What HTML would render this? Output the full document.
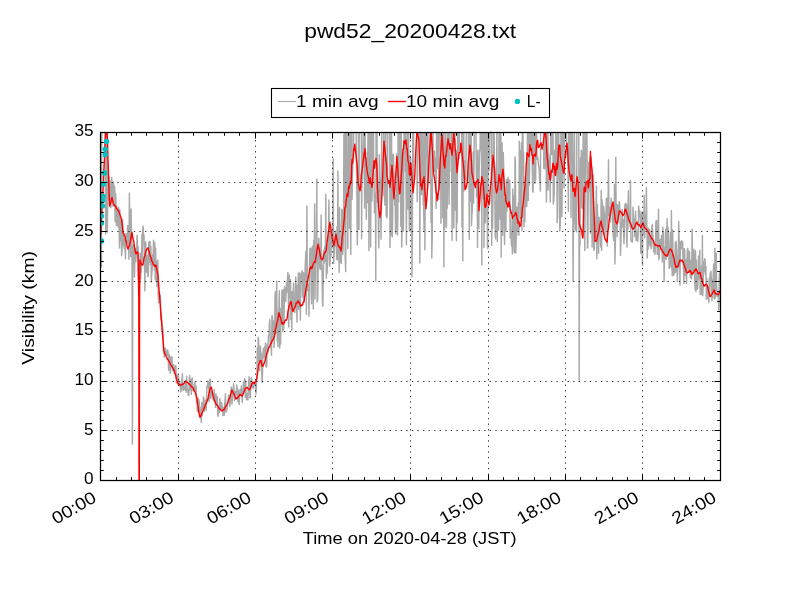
<!DOCTYPE html>
<html><head><meta charset="utf-8"><style>
html,body{margin:0;padding:0;background:#fff;width:800px;height:600px;overflow:hidden;font-family:"Liberation Sans",sans-serif}
text{font-family:"Liberation Sans",sans-serif;fill:#000}
</style></head><body>
<svg width="800" height="600" viewBox="0 0 800 600" style="position:absolute;left:0;top:0;will-change:transform">
<rect width="800" height="600" fill="#fff"/>
<defs><clipPath id="c"><rect x="100.5" y="132.5" width="620" height="348"/></clipPath></defs>
<g clip-path="url(#c)">
<path d="M100.5 250.0 L100.9 258.0 L101.4 267.0 L101.8 110.0 L102.2 110.0 L102.7 110.0 L103.1 110.0 L103.5 110.0 L103.9 110.0 L104.4 110.0 L104.8 110.0 L105.2 160.0 L105.7 234.0 L106.1 125.0 L106.5 230.0 L107.0 110.0 L107.4 232.0 L107.8 180.0 L108.3 200.0 L108.7 178.7 L109.1 176.9 L109.5 190.4 L110.0 180.8 L110.4 203.9 L110.8 207.6 L111.3 201.1 L111.7 177.5 L112.1 185.7 L112.6 199.4 L113.0 206.3 L113.4 182.0 L113.9 190.4 L114.3 185.9 L114.7 187.3 L115.1 221.4 L115.6 193.6 L116.0 202.9 L116.4 225.6 L116.9 206.3 L117.3 214.6 L117.7 223.9 L118.2 226.9 L118.6 207.4 L119.0 224.1 L119.5 248.1 L119.9 209.8 L120.3 241.1 L120.8 235.7 L121.2 221.5 L121.6 255.7 L122.0 251.7 L122.5 219.1 L122.9 233.2 L123.3 245.6 L123.8 235.2 L124.2 248.4 L124.6 239.1 L125.1 249.7 L125.5 258.8 L125.9 233.8 L126.4 242.9 L126.8 233.9 L127.2 242.8 L127.6 225.4 L128.1 230.1 L128.5 237.8 L128.9 259.2 L129.4 193.0 L129.8 229.2 L130.2 230.4 L130.7 256.6 L131.1 209.0 L131.5 234.3 L132.0 244.8 L132.4 444.0 L132.8 268.2 L133.2 249.3 L133.7 244.9 L134.1 246.8 L134.5 277.0 L135.0 252.1 L135.4 248.3 L135.8 261.6 L136.3 254.4 L136.7 251.4 L137.1 235.3 L137.6 251.2 L138.0 246.1 L138.4 277.5 L138.8 275.0 L139.3 261.0 L139.7 272.9 L140.1 253.3 L140.6 278.7 L141.0 262.7 L141.4 272.3 L141.9 234.5 L142.3 260.8 L142.7 229.1 L143.2 226.1 L143.6 239.8 L144.0 234.8 L144.4 256.8 L144.9 290.9 L145.3 248.4 L145.7 241.7 L146.2 260.9 L146.6 272.2 L147.0 258.1 L147.5 254.9 L147.9 276.4 L148.3 276.6 L148.8 241.9 L149.2 255.9 L149.6 262.2 L150.0 241.4 L150.5 264.8 L150.9 246.2 L151.3 282.0 L151.8 273.6 L152.2 269.8 L152.6 254.4 L153.1 262.1 L153.5 240.3 L153.9 243.6 L154.4 270.3 L154.8 242.6 L155.2 279.5 L155.6 248.2 L156.1 281.5 L156.5 261.2 L156.9 286.6 L157.4 281.6 L157.8 260.1 L158.2 294.6 L158.7 302.9 L159.1 294.1 L159.5 292.2 L160.0 297.2 L160.4 295.5 L160.8 319.9 L161.3 313.5 L161.7 321.9 L162.1 321.6 L162.5 327.0 L163.0 329.0 L163.4 350.4 L163.8 348.5 L164.3 357.3 L164.7 353.4 L165.1 347.9 L165.6 350.3 L166.0 350.0 L166.4 355.0 L166.9 353.9 L167.3 355.1 L167.7 350.0 L168.1 352.4 L168.6 370.2 L169.0 358.6 L169.4 354.6 L169.9 364.3 L170.3 373.2 L170.7 356.8 L171.2 362.0 L171.6 360.8 L172.0 357.1 L172.5 370.8 L172.9 369.1 L173.3 370.2 L173.7 364.7 L174.2 373.5 L174.6 368.0 L175.0 370.6 L175.5 365.7 L175.9 365.6 L176.3 382.9 L176.8 374.1 L177.2 379.5 L177.6 378.6 L178.1 375.9 L178.5 375.7 L178.9 385.7 L179.3 380.8 L179.8 381.9 L180.2 383.8 L180.6 392.0 L181.1 390.5 L181.5 388.0 L181.9 379.5 L182.4 373.7 L182.8 388.2 L183.2 390.6 L183.7 383.2 L184.1 386.9 L184.5 389.0 L184.9 389.5 L185.4 390.3 L185.8 380.7 L186.2 392.3 L186.7 376.2 L187.1 389.1 L187.5 389.1 L188.0 391.8 L188.4 395.3 L188.8 395.4 L189.3 379.4 L189.7 375.5 L190.1 389.9 L190.5 379.7 L191.0 385.7 L191.4 394.4 L191.8 378.9 L192.3 377.9 L192.7 387.8 L193.1 390.4 L193.6 388.8 L194.0 391.5 L194.4 385.0 L194.9 382.0 L195.3 389.8 L195.7 387.5 L196.1 386.2 L196.6 403.3 L197.0 403.6 L197.4 411.5 L197.9 398.0 L198.3 400.3 L198.7 399.5 L199.2 401.6 L199.6 412.4 L200.0 407.0 L200.5 414.5 L200.9 415.3 L201.3 422.4 L201.8 402.5 L202.2 415.6 L202.6 409.3 L203.0 408.0 L203.5 396.9 L203.9 399.9 L204.3 411.1 L204.8 405.3 L205.2 404.8 L205.6 399.9 L206.1 410.4 L206.5 401.9 L206.9 385.9 L207.4 387.6 L207.8 383.0 L208.2 381.1 L208.6 382.5 L209.1 401.6 L209.5 393.3 L209.9 379.0 L210.4 379.3 L210.8 398.5 L211.2 394.2 L211.7 392.6 L212.1 391.8 L212.5 393.1 L213.0 400.0 L213.4 400.4 L213.8 398.8 L214.2 389.5 L214.7 400.7 L215.1 394.2 L215.5 407.4 L216.0 394.0 L216.4 399.8 L216.8 403.2 L217.3 396.7 L217.7 414.7 L218.1 416.2 L218.6 406.5 L219.0 412.9 L219.4 411.8 L219.8 398.5 L220.3 406.5 L220.7 407.9 L221.1 409.4 L221.6 402.5 L222.0 406.0 L222.4 406.8 L222.9 415.5 L223.3 411.8 L223.7 407.8 L224.2 415.5 L224.6 403.6 L225.0 401.3 L225.4 393.8 L225.9 412.3 L226.3 411.7 L226.7 410.7 L227.2 408.4 L227.6 402.8 L228.0 401.8 L228.5 396.4 L228.9 395.0 L229.3 396.5 L229.8 406.6 L230.2 402.6 L230.6 395.6 L231.0 388.8 L231.5 386.9 L231.9 404.1 L232.3 400.2 L232.8 394.9 L233.2 389.8 L233.6 383.7 L234.1 390.4 L234.5 400.5 L234.9 391.7 L235.4 391.7 L235.8 392.0 L236.2 395.2 L236.7 385.0 L237.1 390.7 L237.5 388.4 L237.9 401.5 L238.4 390.6 L238.8 399.0 L239.2 404.5 L239.7 394.6 L240.1 389.4 L240.5 394.4 L241.0 393.5 L241.4 386.0 L241.8 394.8 L242.3 402.4 L242.7 393.0 L243.1 389.6 L243.5 382.3 L244.0 391.0 L244.4 380.0 L244.8 378.7 L245.3 397.2 L245.7 381.1 L246.1 396.2 L246.6 399.6 L247.0 393.4 L247.4 394.0 L247.9 400.0 L248.3 389.7 L248.7 382.3 L249.1 376.7 L249.6 385.1 L250.0 398.0 L250.4 397.1 L250.9 380.3 L251.3 377.7 L251.7 379.4 L252.2 387.5 L252.6 383.7 L253.0 387.2 L253.5 388.5 L253.9 382.0 L254.3 383.0 L254.7 385.3 L255.2 381.9 L255.6 386.9 L256.0 394.0 L256.5 386.7 L256.9 374.7 L257.3 348.0 L257.8 362.7 L258.2 337.2 L258.6 339.5 L259.1 367.3 L259.5 370.6 L259.9 360.6 L260.3 346.1 L260.8 353.5 L261.2 353.1 L261.6 370.5 L262.1 382.5 L262.5 373.0 L262.9 354.9 L263.4 348.3 L263.8 357.4 L264.2 357.6 L264.7 346.8 L265.1 357.3 L265.5 343.1 L265.9 365.9 L266.4 367.1 L266.8 365.9 L267.2 344.2 L267.7 352.8 L268.1 342.7 L268.5 335.9 L269.0 334.7 L269.4 322.5 L269.8 319.5 L270.3 347.6 L270.7 337.3 L271.1 342.3 L271.5 355.3 L272.0 315.5 L272.4 316.1 L272.8 332.0 L273.3 339.4 L273.7 321.1 L274.1 347.5 L274.6 334.2 L275.0 295.3 L275.4 291.5 L275.9 333.2 L276.3 332.5 L276.7 281.2 L277.2 340.8 L277.6 336.5 L278.0 346.6 L278.4 313.7 L278.9 307.8 L279.3 290.7 L279.7 348.0 L280.2 323.0 L280.6 344.0 L281.0 308.5 L281.5 318.3 L281.9 289.9 L282.3 299.7 L282.8 331.3 L283.2 290.0 L283.6 329.6 L284.0 321.6 L284.5 286.4 L284.9 289.4 L285.3 290.7 L285.8 301.4 L286.2 290.8 L286.6 282.4 L287.1 292.1 L287.5 278.2 L287.9 272.5 L288.4 295.5 L288.8 327.1 L289.2 275.1 L289.6 297.5 L290.1 286.8 L290.5 279.5 L290.9 319.7 L291.4 294.1 L291.8 330.3 L292.2 291.4 L292.7 309.4 L293.1 297.5 L293.5 283.3 L294.0 310.5 L294.4 297.8 L294.8 312.6 L295.2 300.6 L295.7 277.0 L296.1 292.2 L296.5 300.3 L297.0 322.1 L297.4 285.0 L297.8 297.7 L298.3 273.0 L298.7 309.2 L299.1 280.8 L299.6 273.0 L300.0 290.9 L300.4 319.9 L300.8 275.0 L301.3 273.3 L301.7 276.1 L302.1 270.8 L302.6 297.3 L303.0 275.9 L303.4 272.7 L303.9 301.1 L304.3 273.6 L304.7 296.3 L305.2 266.0 L305.6 257.6 L306.0 251.3 L306.4 314.2 L306.9 206.0 L307.3 290.4 L307.7 283.9 L308.2 287.7 L308.6 285.0 L309.0 316.3 L309.5 264.6 L309.9 248.7 L310.3 251.3 L310.8 248.0 L311.2 292.6 L311.6 303.8 L312.0 258.6 L312.5 245.9 L312.9 260.2 L313.3 309.0 L313.8 240.1 L314.2 278.2 L314.6 204.0 L315.1 299.0 L315.5 252.8 L315.9 262.8 L316.4 242.7 L316.8 179.0 L317.2 301.9 L317.7 300.3 L318.1 268.7 L318.5 250.8 L318.9 238.3 L319.4 252.3 L319.8 267.6 L320.2 269.2 L320.7 269.0 L321.1 215.0 L321.5 263.1 L322.0 268.4 L322.4 300.1 L322.8 306.2 L323.3 278.3 L323.7 250.5 L324.1 263.2 L324.5 251.1 L325.0 245.7 L325.4 261.3 L325.8 194.5 L326.3 278.3 L326.7 265.9 L327.1 273.2 L327.6 261.6 L328.0 244.8 L328.4 237.5 L328.9 200.0 L329.3 245.8 L329.7 266.0 L330.1 262.9 L330.6 231.3 L331.0 256.0 L331.4 230.3 L331.9 237.8 L332.3 247.6 L332.7 223.6 L333.2 159.0 L333.6 263.4 L334.0 256.4 L334.5 246.8 L334.9 246.2 L335.3 231.1 L335.7 245.0 L336.2 240.0 L336.6 259.0 L337.0 226.7 L337.5 259.9 L337.9 171.0 L338.3 254.5 L338.8 240.0 L339.2 272.4 L339.6 207.8 L340.1 257.5 L340.5 261.3 L340.9 262.7 L341.3 263.3 L341.8 209.4 L342.2 210.8 L342.6 254.6 L343.1 249.2 L343.5 231.6 L343.9 134.6 L344.4 217.4 L344.8 69.3 L345.2 258.0 L345.7 271.6 L346.1 79.9 L346.5 155.6 L346.9 183.1 L347.4 196.1 L347.8 248.5 L348.2 68.5 L348.7 96.4 L349.1 96.7 L349.5 228.2 L350.0 96.1 L350.4 212.1 L350.8 254.2 L351.3 127.0 L351.7 66.1 L352.1 199.3 L352.6 170.6 L353.0 158.2 L353.4 158.7 L353.8 118.9 L354.3 76.3 L354.7 88.0 L355.1 121.8 L355.6 125.9 L356.0 122.2 L356.4 160.6 L356.9 194.0 L357.3 245.1 L357.7 219.3 L358.2 181.9 L358.6 66.9 L359.0 229.5 L359.4 76.3 L359.9 74.6 L360.3 69.3 L360.7 124.1 L361.2 68.7 L361.6 238.8 L362.0 163.8 L362.5 179.7 L362.9 152.0 L363.3 127.2 L363.8 66.3 L364.2 118.6 L364.6 208.0 L365.0 124.8 L365.5 178.8 L365.9 165.7 L366.3 219.3 L366.8 186.8 L367.2 152.4 L367.6 202.4 L368.1 106.3 L368.5 100.3 L368.9 250.5 L369.4 60.9 L369.8 123.9 L370.2 68.5 L370.6 247.1 L371.1 159.5 L371.5 86.1 L371.9 201.0 L372.4 177.9 L372.8 82.0 L373.2 77.0 L373.7 162.6 L374.1 187.4 L374.5 212.7 L375.0 202.2 L375.4 193.2 L375.8 281.0 L376.2 65.7 L376.7 82.0 L377.1 150.9 L377.5 202.2 L378.0 181.7 L378.4 229.2 L378.8 247.8 L379.3 154.8 L379.7 176.2 L380.1 180.2 L380.6 193.7 L381.0 239.2 L381.4 199.8 L381.8 71.5 L382.3 113.6 L382.7 81.3 L383.1 75.5 L383.6 154.0 L384.0 195.6 L384.4 186.2 L384.9 205.0 L385.3 100.0 L385.7 89.8 L386.2 216.2 L386.6 156.0 L387.0 217.9 L387.4 202.3 L387.9 107.4 L388.3 107.7 L388.7 68.5 L389.2 77.2 L389.6 64.5 L390.0 247.6 L390.5 184.1 L390.9 235.0 L391.3 70.6 L391.8 193.6 L392.2 237.0 L392.6 225.6 L393.1 154.2 L393.5 156.0 L393.9 178.6 L394.3 191.7 L394.8 205.3 L395.2 195.1 L395.6 233.5 L396.1 223.5 L396.5 154.1 L396.9 172.1 L397.4 234.9 L397.8 217.6 L398.2 80.6 L398.7 202.1 L399.1 155.5 L399.5 119.7 L399.9 71.5 L400.4 73.4 L400.8 226.2 L401.2 125.8 L401.7 247.0 L402.1 230.9 L402.5 152.2 L403.0 203.9 L403.4 231.0 L403.8 166.8 L404.3 105.9 L404.7 115.1 L405.1 115.3 L405.5 171.4 L406.0 167.9 L406.4 244.8 L406.8 163.2 L407.3 79.2 L407.7 186.4 L408.1 209.6 L408.6 117.7 L409.0 200.5 L409.4 231.0 L409.9 155.8 L410.3 206.1 L410.7 158.5 L411.1 232.5 L411.6 198.4 L412.0 277.0 L412.4 229.7 L412.9 72.1 L413.3 186.4 L413.7 116.5 L414.2 125.5 L414.6 70.4 L415.0 67.7 L415.5 103.3 L415.9 116.2 L416.3 65.2 L416.7 101.8 L417.2 201.7 L417.6 127.9 L418.0 84.6 L418.5 65.6 L418.9 113.2 L419.3 80.4 L419.8 263.0 L420.2 168.6 L420.6 167.2 L421.1 69.1 L421.5 194.5 L421.9 176.6 L422.3 80.3 L422.8 105.4 L423.2 203.9 L423.6 205.3 L424.1 231.5 L424.5 125.3 L424.9 249.9 L425.4 158.8 L425.8 151.3 L426.2 102.1 L426.7 83.3 L427.1 171.8 L427.5 189.6 L427.9 154.7 L428.4 79.3 L428.8 87.9 L429.2 86.2 L429.7 79.9 L430.1 183.1 L430.5 94.8 L431.0 222.4 L431.4 179.0 L431.8 258.0 L432.3 234.6 L432.7 83.2 L433.1 153.6 L433.6 167.8 L434.0 165.0 L434.4 151.3 L434.8 171.6 L435.3 158.4 L435.7 161.7 L436.1 208.5 L436.6 119.7 L437.0 150.5 L437.4 159.1 L437.9 168.5 L438.3 65.6 L438.7 199.5 L439.2 127.5 L439.6 76.3 L440.0 67.9 L440.4 79.7 L440.9 223.3 L441.3 79.4 L441.7 89.4 L442.2 116.7 L442.6 217.7 L443.0 100.1 L443.5 67.4 L443.9 267.0 L444.3 152.3 L444.8 228.7 L445.2 151.0 L445.6 82.8 L446.0 198.6 L446.5 227.2 L446.9 151.9 L447.3 208.0 L447.8 90.0 L448.2 68.7 L448.6 171.6 L449.1 204.2 L449.5 81.3 L449.9 91.0 L450.4 81.2 L450.8 82.8 L451.2 171.3 L451.6 152.2 L452.1 240.4 L452.5 127.8 L452.9 89.3 L453.4 122.8 L453.8 227.9 L454.2 172.0 L454.7 66.7 L455.1 209.8 L455.5 153.2 L456.0 150.1 L456.4 240.8 L456.8 173.4 L457.2 222.7 L457.7 82.5 L458.1 153.6 L458.5 111.3 L459.0 158.4 L459.4 123.0 L459.8 92.4 L460.3 84.9 L460.7 107.4 L461.1 78.8 L461.6 108.4 L462.0 226.9 L462.4 92.5 L462.8 261.0 L463.3 73.8 L463.7 118.6 L464.1 190.9 L464.6 163.5 L465.0 161.1 L465.4 179.6 L465.9 166.5 L466.3 127.9 L466.7 61.0 L467.2 101.7 L467.6 77.9 L468.0 77.1 L468.4 157.7 L468.9 170.2 L469.3 239.3 L469.7 108.6 L470.2 162.1 L470.6 201.0 L471.0 76.2 L471.5 225.8 L471.9 214.5 L472.3 211.0 L472.8 175.2 L473.2 152.0 L473.6 203.0 L474.1 152.5 L474.5 115.7 L474.9 83.6 L475.3 120.1 L475.8 108.3 L476.2 158.2 L476.6 196.9 L477.1 152.0 L477.5 247.3 L477.9 150.3 L478.4 209.2 L478.8 228.8 L479.2 168.2 L479.7 150.1 L480.1 151.0 L480.5 73.3 L480.9 99.1 L481.4 88.8 L481.8 265.0 L482.2 73.7 L482.7 198.4 L483.1 87.4 L483.5 111.9 L484.0 247.4 L484.4 119.7 L484.8 111.6 L485.3 222.9 L485.7 213.5 L486.1 166.7 L486.5 79.9 L487.0 84.1 L487.4 245.5 L487.8 248.5 L488.3 92.2 L488.7 152.2 L489.1 170.4 L489.6 152.4 L490.0 66.5 L490.4 82.3 L490.9 77.4 L491.3 70.6 L491.7 245.5 L492.1 187.2 L492.6 228.5 L493.0 199.5 L493.4 89.2 L493.9 105.7 L494.3 153.4 L494.7 174.0 L495.2 234.6 L495.6 238.9 L496.0 213.0 L496.5 199.6 L496.9 116.2 L497.3 241.6 L497.7 206.9 L498.2 201.7 L498.6 230.1 L499.0 117.6 L499.5 98.4 L499.9 209.8 L500.3 219.2 L500.8 128.3 L501.2 257.0 L501.6 165.3 L502.1 142.8 L502.5 235.3 L502.9 201.8 L503.3 152.5 L503.8 172.3 L504.2 230.7 L504.6 244.6 L505.1 192.2 L505.5 215.3 L505.9 230.7 L506.4 179.7 L506.8 211.1 L507.2 201.4 L507.7 179.3 L508.1 177.3 L508.5 199.2 L509.0 202.6 L509.4 179.9 L509.8 181.2 L510.2 238.0 L510.7 219.1 L511.1 237.0 L511.5 246.0 L512.0 234.3 L512.4 254.1 L512.8 188.9 L513.3 230.4 L513.7 195.6 L514.1 251.1 L514.6 252.7 L515.0 156.9 L515.4 161.1 L515.8 253.0 L516.3 234.4 L516.7 235.5 L517.1 207.1 L517.6 221.4 L518.0 230.7 L518.4 202.8 L518.9 235.0 L519.3 141.2 L519.7 201.6 L520.2 150.4 L520.6 218.4 L521.0 180.1 L521.4 142.8 L521.9 230.7 L522.3 138.2 L522.7 77.6 L523.2 173.4 L523.6 152.2 L524.0 227.1 L524.5 194.5 L524.9 221.7 L525.3 188.6 L525.8 178.1 L526.2 196.1 L526.6 206.6 L527.0 201.1 L527.5 115.0 L527.9 172.4 L528.3 200.6 L528.8 81.3 L529.2 185.3 L529.6 168.2 L530.1 98.8 L530.5 151.0 L530.9 150.0 L531.4 63.7 L531.8 64.3 L532.2 160.4 L532.6 189.9 L533.1 192.2 L533.5 61.6 L533.9 60.7 L534.4 99.2 L534.8 183.5 L535.2 160.6 L535.7 179.8 L536.1 61.1 L536.5 119.2 L537.0 159.2 L537.4 156.2 L537.8 158.0 L538.2 162.8 L538.7 166.2 L539.1 167.5 L539.5 178.1 L540.0 183.2 L540.4 191.1 L540.8 71.1 L541.3 82.8 L541.7 107.6 L542.1 126.9 L542.6 73.4 L543.0 118.9 L543.4 101.8 L543.8 168.4 L544.3 151.0 L544.7 168.7 L545.1 163.0 L545.6 67.2 L546.0 104.6 L546.4 201.9 L546.9 176.6 L547.3 94.0 L547.7 81.2 L548.2 189.9 L548.6 154.0 L549.0 168.6 L549.5 157.7 L549.9 178.7 L550.3 201.9 L550.7 83.9 L551.2 65.5 L551.6 154.4 L552.0 126.8 L552.5 151.7 L552.9 109.4 L553.3 204.0 L553.8 200.4 L554.2 192.1 L554.6 150.1 L555.1 173.1 L555.5 160.5 L555.9 78.9 L556.3 66.9 L556.8 154.7 L557.2 222.8 L557.6 215.8 L558.1 153.1 L558.5 74.5 L558.9 151.8 L559.4 167.8 L559.8 231.0 L560.2 225.5 L560.7 178.5 L561.1 85.3 L561.5 171.8 L561.9 216.7 L562.4 166.8 L562.8 72.8 L563.2 79.3 L563.7 76.9 L564.1 188.0 L564.5 83.4 L565.0 76.9 L565.4 94.7 L565.8 120.8 L566.3 124.9 L566.7 154.3 L567.1 156.5 L567.5 153.0 L568.0 169.4 L568.4 211.5 L568.8 73.6 L569.3 179.7 L569.7 82.0 L570.1 115.4 L570.6 75.9 L571.0 217.4 L571.4 99.8 L571.9 82.4 L572.3 123.2 L572.7 171.8 L573.1 281.0 L573.6 192.4 L574.0 165.6 L574.4 109.3 L574.9 219.9 L575.3 230.1 L575.7 228.3 L576.2 194.8 L576.6 231.9 L577.0 75.9 L577.5 76.3 L577.9 118.7 L578.3 84.6 L578.7 67.5 L579.2 381.0 L579.6 222.8 L580.0 245.6 L580.5 158.1 L580.9 205.8 L581.3 150.1 L581.8 208.0 L582.2 152.1 L582.6 208.7 L583.1 150.7 L583.5 97.5 L583.9 73.7 L584.3 170.0 L584.8 250.4 L585.2 186.7 L585.6 159.7 L586.1 97.9 L586.5 63.0 L586.9 119.7 L587.4 248.0 L587.8 247.9 L588.2 197.0 L588.7 162.2 L589.1 190.8 L589.5 169.2 L590.0 156.6 L590.4 233.3 L590.8 230.3 L591.2 157.2 L591.7 170.9 L592.1 247.1 L592.5 231.6 L593.0 222.7 L593.4 174.6 L593.8 250.3 L594.3 248.7 L594.7 232.8 L595.1 232.2 L595.6 237.5 L596.0 212.3 L596.4 186.1 L596.8 258.8 L597.3 204.6 L597.7 218.6 L598.1 225.8 L598.6 253.4 L599.0 217.2 L599.4 221.6 L599.9 221.9 L600.3 235.0 L600.7 247.0 L601.2 190.6 L601.6 250.4 L602.0 199.7 L602.4 203.3 L602.9 231.5 L603.3 227.6 L603.7 206.5 L604.2 213.2 L604.6 223.1 L605.0 234.9 L605.5 214.3 L605.9 217.0 L606.3 198.5 L606.8 200.3 L607.2 246.0 L607.6 198.1 L608.0 209.5 L608.5 159.7 L608.9 215.9 L609.3 206.7 L609.8 218.1 L610.2 221.9 L610.6 221.1 L611.1 198.1 L611.5 212.6 L611.9 205.9 L612.4 209.2 L612.8 224.6 L613.2 235.3 L613.6 240.5 L614.1 217.3 L614.5 184.3 L614.9 264.0 L615.4 243.7 L615.8 157.3 L616.2 226.6 L616.7 220.4 L617.1 236.7 L617.5 204.7 L618.0 222.4 L618.4 213.5 L618.8 214.6 L619.2 201.4 L619.7 204.9 L620.1 218.2 L620.5 255.5 L621.0 239.9 L621.4 225.7 L621.8 220.2 L622.3 209.4 L622.7 227.0 L623.1 219.5 L623.6 232.4 L624.0 243.7 L624.4 228.8 L624.9 204.5 L625.3 206.8 L625.7 203.3 L626.1 204.1 L626.6 237.6 L627.0 247.1 L627.4 204.9 L627.9 229.0 L628.3 190.8 L628.7 221.5 L629.2 212.3 L629.6 215.4 L630.0 226.1 L630.5 180.6 L630.9 240.1 L631.3 241.2 L631.7 241.3 L632.2 242.3 L632.6 237.7 L633.0 207.2 L633.5 217.8 L633.9 227.9 L634.3 219.0 L634.8 236.6 L635.2 221.5 L635.6 211.3 L636.1 240.7 L636.5 237.8 L636.9 231.3 L637.3 238.9 L637.8 241.2 L638.2 234.3 L638.6 205.9 L639.1 210.9 L639.5 215.9 L639.9 211.4 L640.4 225.8 L640.8 253.2 L641.2 222.8 L641.7 211.9 L642.1 245.3 L642.5 265.6 L642.9 212.1 L643.4 227.5 L643.8 234.2 L644.2 195.3 L644.7 237.8 L645.1 223.3 L645.5 215.7 L646.0 228.7 L646.4 187.5 L646.8 222.4 L647.3 257.9 L647.7 229.1 L648.1 249.1 L648.5 228.1 L649.0 246.1 L649.4 233.9 L649.8 229.7 L650.3 241.0 L650.7 244.9 L651.1 248.5 L651.6 241.5 L652.0 226.3 L652.4 224.7 L652.9 239.8 L653.3 243.9 L653.7 251.9 L654.1 245.7 L654.6 250.9 L655.0 254.4 L655.4 244.6 L655.9 221.3 L656.3 221.3 L656.7 220.5 L657.2 254.2 L657.6 230.6 L658.0 254.2 L658.5 209.2 L658.9 259.4 L659.3 257.7 L659.7 244.4 L660.2 239.6 L660.6 243.3 L661.0 245.8 L661.5 235.6 L661.9 241.4 L662.3 261.9 L662.8 227.2 L663.2 244.3 L663.6 231.9 L664.1 281.0 L664.5 257.9 L664.9 247.7 L665.4 258.2 L665.8 228.9 L666.2 259.3 L666.6 240.2 L667.1 218.7 L667.5 252.8 L667.9 227.0 L668.4 231.7 L668.8 248.5 L669.2 268.4 L669.7 259.4 L670.1 256.4 L670.5 232.7 L671.0 267.4 L671.4 210.5 L671.8 259.1 L672.2 275.8 L672.7 230.1 L673.1 262.2 L673.5 275.4 L674.0 271.4 L674.4 273.4 L674.8 267.9 L675.3 242.6 L675.7 272.2 L676.1 241.3 L676.6 249.7 L677.0 260.3 L677.4 281.2 L677.8 267.6 L678.3 266.6 L678.7 221.6 L679.1 240.7 L679.6 255.8 L680.0 285.1 L680.4 241.8 L680.9 241.6 L681.3 248.7 L681.7 240.8 L682.2 242.0 L682.6 241.7 L683.0 258.8 L683.4 268.7 L683.9 283.4 L684.3 248.4 L684.7 250.7 L685.2 275.2 L685.6 263.3 L686.0 259.4 L686.5 283.6 L686.9 265.4 L687.3 250.6 L687.8 248.4 L688.2 267.0 L688.6 271.7 L689.0 251.1 L689.5 251.9 L689.9 272.3 L690.3 277.5 L690.8 260.5 L691.2 276.4 L691.6 278.8 L692.1 229.2 L692.5 259.4 L692.9 273.9 L693.4 261.5 L693.8 249.3 L694.2 258.8 L694.6 279.6 L695.1 289.5 L695.5 250.6 L695.9 291.6 L696.4 260.2 L696.8 288.9 L697.2 289.3 L697.7 288.6 L698.1 278.4 L698.5 256.1 L699.0 279.0 L699.4 261.8 L699.8 250.2 L700.2 294.6 L700.7 289.9 L701.1 294.8 L701.5 266.3 L702.0 292.5 L702.4 235.7 L702.8 295.7 L703.3 282.4 L703.7 262.1 L704.1 271.4 L704.6 258.7 L705.0 259.7 L705.4 274.2 L705.9 266.3 L706.3 299.0 L706.7 278.2 L707.1 298.8 L707.6 298.5 L708.0 286.6 L708.4 297.1 L708.9 302.4 L709.3 278.3 L709.7 294.6 L710.2 273.0 L710.6 278.9 L711.0 271.2 L711.5 283.3 L711.9 300.5 L712.3 280.2 L712.7 297.8 L713.2 275.8 L713.6 264.1 L714.0 271.8 L714.5 298.9 L714.9 248.2 L715.3 298.0 L715.8 280.4 L716.2 253.0 L716.6 284.3 L717.1 296.3 L717.5 293.0 L717.9 292.2 L718.3 295.9 L718.8 310.2 L719.2 281.8 L719.6 272.7 L720.1 278.8 L720.5 273.8" stroke="#a9a9a9" stroke-width="1.45" fill="none" stroke-linejoin="round"/>
<path d="M100.5 236.0 L100.9 229.1 L101.0 228.0 L101.4 221.5 L101.8 213.7 L102.0 210.0 L102.2 205.5 L102.7 196.9 L103.0 190.0 L103.1 188.1 L103.5 178.6 L103.9 169.2 L104.0 168.0 L104.4 159.3 L104.8 149.4 L105.0 145.0 L105.2 141.1 L105.7 134.1 L105.8 132.0 L106.1 130.5 L106.5 128.3 L106.6 128.0 L107.0 132.8 L107.4 138.6 L107.5 140.0 L107.8 153.0 L108.0 160.0 L108.3 167.7 L108.7 180.6 L109.0 190.0 L109.1 193.1 L109.5 204.6 L109.6 206.0 L110.0 204.9 L110.4 203.6 L110.8 202.4 L111.3 199.5 L111.7 198.3 L112.0 197.4 L112.1 197.8 L112.6 199.9 L113.0 202.1 L113.4 203.5 L113.9 204.6 L114.0 205.1 L114.3 205.5 L114.7 205.2 L115.1 206.1 L115.6 206.2 L116.0 207.4 L116.0 207.4 L116.4 208.8 L116.9 208.9 L117.3 208.9 L117.7 210.0 L118.0 210.5 L118.2 210.8 L118.6 211.0 L119.0 211.7 L119.0 211.8 L119.5 213.3 L119.9 214.4 L120.3 216.2 L120.8 217.1 L121.2 218.4 L121.6 220.7 L122.0 222.5 L122.0 223.0 L122.5 226.5 L122.9 231.3 L123.0 232.3 L123.3 233.3 L123.8 233.4 L124.2 235.3 L124.6 235.8 L125.0 236.8 L125.1 237.0 L125.5 240.0 L125.9 240.9 L126.4 242.3 L126.8 244.6 L127.2 246.7 L127.6 247.7 L128.0 249.0 L128.1 248.8 L128.5 247.1 L128.9 246.6 L129.4 245.9 L129.8 243.7 L130.0 243.1 L130.2 241.7 L130.7 239.8 L131.1 237.0 L131.5 234.2 L132.0 232.4 L132.0 232.3 L132.4 235.0 L132.8 237.8 L133.0 238.3 L133.2 239.4 L133.7 240.9 L134.1 243.7 L134.5 247.4 L135.0 249.4 L135.4 252.3 L135.5 253.0 L135.8 253.6 L136.3 253.8 L136.7 252.9 L137.1 251.6 L138.0 253.0 L138.8 300.0 L139.0 480.5 L139.3 480.5 L139.6 300.0 L140.0 260.0 L141.0 263.0 L141.4 264.0 L141.9 264.6 L142.3 265.2 L142.7 265.1 L143.0 264.4 L143.2 263.3 L143.6 260.9 L144.0 258.2 L144.4 256.7 L144.9 255.4 L145.3 253.6 L145.7 252.0 L146.2 250.5 L146.6 249.3 L147.0 248.9 L147.5 248.3 L147.9 247.9 L148.0 247.7 L148.3 249.4 L148.8 251.1 L149.2 251.4 L149.6 253.5 L150.0 255.0 L150.5 256.7 L150.9 257.3 L151.0 257.8 L151.3 259.2 L151.8 260.9 L152.2 261.8 L152.6 262.2 L153.1 264.0 L153.5 264.6 L153.9 264.9 L154.0 265.3 L154.4 266.1 L154.8 265.3 L155.2 266.4 L155.6 265.1 L156.0 265.3 L156.1 265.6 L156.5 267.2 L156.9 269.6 L157.4 271.8 L157.8 274.0 L158.0 275.4 L158.2 278.9 L158.7 284.6 L159.1 290.8 L159.5 295.4 L160.0 301.3 L160.0 301.7 L160.4 306.4 L160.8 313.1 L161.3 318.4 L161.7 324.2 L162.0 328.8 L162.1 330.2 L162.5 334.6 L163.0 338.8 L163.4 344.1 L163.8 349.5 L164.0 351.6 L164.3 352.3 L164.7 353.7 L165.1 354.1 L165.6 355.1 L166.0 355.9 L166.4 357.0 L166.9 358.0 L167.3 359.1 L167.7 359.4 L168.0 359.8 L168.1 359.9 L168.6 360.7 L169.0 361.3 L169.4 361.9 L169.9 362.8 L170.3 364.0 L170.7 364.5 L171.0 365.0 L171.2 365.3 L171.6 365.9 L172.0 366.6 L172.5 367.7 L172.9 368.1 L173.3 368.9 L173.7 369.7 L174.0 370.2 L174.2 370.8 L174.6 371.8 L175.0 373.6 L175.5 374.9 L175.9 376.2 L176.0 376.7 L176.3 378.3 L176.8 379.6 L177.2 381.1 L177.6 382.5 L178.0 383.9 L178.1 383.9 L178.5 383.8 L178.9 384.2 L179.3 384.4 L179.8 384.7 L180.0 385.0 L180.2 385.0 L180.6 384.9 L181.1 385.0 L181.5 384.9 L181.9 384.6 L182.4 384.2 L182.8 384.4 L183.0 384.4 L183.2 384.1 L183.7 383.6 L184.1 383.3 L184.5 382.9 L184.9 382.3 L185.4 381.8 L185.8 381.1 L186.0 381.1 L186.2 381.5 L186.7 381.8 L187.1 382.1 L187.5 382.3 L188.0 382.9 L188.4 383.5 L188.8 384.0 L189.0 383.9 L189.3 384.1 L189.7 384.1 L190.1 385.0 L190.5 385.1 L191.0 386.0 L191.4 386.8 L191.8 387.0 L192.0 387.0 L192.3 387.1 L192.7 387.6 L193.1 388.1 L193.6 389.1 L194.0 390.3 L194.4 390.8 L194.9 391.6 L195.0 391.8 L195.3 392.8 L195.7 393.9 L196.1 395.4 L196.6 397.4 L197.0 399.0 L197.0 399.0 L197.4 402.5 L197.9 405.4 L198.3 408.2 L198.7 411.3 L199.0 413.3 L199.2 413.9 L199.6 415.7 L200.0 417.4 L200.0 417.3 L200.5 416.7 L200.9 415.5 L201.3 414.8 L201.8 413.2 L202.0 412.9 L202.2 412.6 L202.6 411.8 L203.0 411.0 L203.5 409.7 L203.9 408.3 L204.3 407.6 L204.8 406.4 L205.0 405.7 L205.2 405.2 L205.6 403.9 L206.1 403.7 L206.5 402.7 L206.9 401.4 L207.4 400.3 L207.8 399.4 L208.0 398.8 L208.2 397.7 L208.6 395.2 L209.1 393.6 L209.5 391.7 L209.9 389.5 L210.0 389.1 L210.4 387.9 L210.8 387.5 L211.2 387.4 L211.4 387.3 L211.7 388.7 L212.1 390.9 L212.5 393.3 L213.0 395.7 L213.0 395.9 L213.4 396.9 L213.8 398.1 L214.2 399.4 L214.7 401.1 L215.1 401.8 L215.5 403.1 L216.0 404.0 L216.0 404.1 L216.4 404.5 L216.8 405.0 L217.3 405.1 L217.7 405.7 L218.1 406.6 L218.6 407.4 L219.0 408.1 L219.0 408.1 L219.4 408.9 L219.8 408.8 L220.3 409.4 L220.7 409.9 L221.1 410.4 L221.6 410.9 L222.0 410.8 L222.0 410.8 L222.4 410.1 L222.9 410.1 L223.3 409.8 L223.7 409.5 L224.0 409.8 L224.2 409.7 L224.6 408.8 L225.0 407.8 L225.4 406.5 L225.9 406.1 L226.3 405.6 L226.7 405.1 L227.2 404.2 L227.6 403.2 L228.0 402.4 L228.0 402.3 L228.5 400.6 L228.9 399.2 L229.3 398.1 L229.8 397.5 L230.2 396.2 L230.6 394.7 L231.0 392.9 L231.5 391.2 L231.9 390.2 L232.0 390.0 L232.3 390.9 L232.8 392.0 L233.2 392.9 L233.6 393.5 L234.0 393.9 L234.1 394.0 L234.5 395.2 L234.9 396.2 L235.4 397.5 L235.8 398.8 L236.0 399.1 L236.2 398.9 L236.7 398.1 L237.1 397.7 L237.5 397.3 L237.9 397.7 L238.0 397.6 L238.4 396.9 L238.8 396.0 L239.2 395.7 L239.7 395.0 L240.0 394.4 L240.1 394.4 L240.5 394.7 L241.0 395.3 L241.4 395.4 L241.8 395.9 L242.0 396.0 L242.3 395.7 L242.7 395.1 L243.1 394.1 L243.5 392.6 L244.0 391.9 L244.0 391.8 L244.4 390.8 L244.8 389.4 L245.3 388.8 L245.5 388.3 L245.7 388.1 L246.1 388.0 L246.6 387.7 L247.0 387.5 L247.4 387.5 L247.5 387.6 L247.9 388.5 L248.3 388.9 L248.7 389.4 L249.1 389.7 L249.5 389.6 L249.6 389.3 L250.0 389.1 L250.4 388.3 L250.9 386.8 L251.0 386.3 L251.3 385.5 L251.7 384.4 L252.2 383.3 L252.6 382.5 L253.0 382.2 L253.0 382.2 L253.5 383.0 L253.9 383.4 L254.3 383.3 L254.5 383.4 L254.7 382.7 L255.2 382.0 L255.6 381.5 L256.0 381.3 L256.0 381.2 L256.5 379.5 L256.9 377.6 L257.3 374.8 L257.5 373.9 L257.8 371.8 L258.2 367.7 L258.5 364.7 L258.6 364.2 L259.1 363.3 L259.5 362.5 L259.9 361.2 L260.0 360.8 L260.3 360.6 L260.8 360.6 L261.0 360.7 L261.2 361.3 L261.6 363.8 L262.0 365.6 L262.1 365.6 L262.5 366.3 L262.9 366.3 L263.4 365.0 L263.8 364.0 L264.0 363.7 L264.2 362.9 L264.7 361.5 L265.1 360.2 L265.5 358.7 L265.5 358.6 L265.9 356.9 L266.4 355.1 L266.8 353.6 L267.0 352.9 L267.2 352.1 L267.7 351.2 L268.1 349.7 L268.5 348.1 L268.5 348.0 L269.0 347.7 L269.4 346.5 L269.8 345.7 L270.0 345.3 L270.3 344.9 L270.7 343.7 L271.1 342.7 L271.5 342.9 L271.5 342.9 L272.0 341.3 L272.4 340.2 L272.8 339.8 L273.0 339.8 L273.3 339.0 L273.7 337.7 L274.0 337.5 L274.1 337.3 L274.6 335.4 L275.0 332.6 L275.4 329.4 L275.9 327.3 L276.0 327.0 L276.3 326.4 L276.7 323.4 L277.2 321.9 L277.6 320.1 L278.0 319.2 L278.4 316.1 L278.9 313.3 L279.0 312.7 L279.3 313.3 L279.7 316.2 L280.2 316.7 L280.6 318.0 L281.0 319.1 L281.0 319.3 L281.5 322.3 L281.9 323.8 L282.0 324.2 L282.3 322.8 L282.8 323.3 L283.2 322.6 L283.6 324.0 L284.0 323.3 L284.0 323.3 L284.5 322.2 L284.9 320.5 L285.3 320.2 L285.8 319.9 L286.2 320.3 L286.6 319.8 L287.0 318.7 L287.1 318.2 L287.5 315.8 L287.9 311.8 L288.4 309.5 L288.8 307.8 L289.0 306.4 L289.2 305.7 L289.6 304.8 L290.1 303.2 L290.5 302.1 L290.9 301.8 L291.0 301.6 L291.4 303.1 L291.8 306.6 L292.2 309.0 L292.7 311.1 L293.0 311.5 L293.1 311.0 L293.5 309.9 L294.0 309.0 L294.4 308.1 L294.8 307.7 L295.0 307.0 L295.2 306.5 L295.7 305.3 L296.1 303.2 L296.5 303.0 L297.0 302.9 L297.4 301.9 L297.8 301.8 L298.0 301.0 L298.3 300.9 L298.7 302.5 L299.1 302.6 L299.6 302.8 L300.0 304.6 L300.0 304.6 L300.4 306.2 L300.8 306.0 L301.3 305.0 L301.7 305.5 L302.0 305.4 L302.1 304.8 L302.6 305.0 L303.0 303.1 L303.4 302.1 L303.9 302.3 L304.0 301.9 L304.3 299.9 L304.7 296.7 L305.2 294.1 L305.6 291.3 L306.0 288.2 L306.0 288.0 L306.4 287.2 L306.9 284.4 L307.3 282.5 L307.7 280.4 L308.0 278.7 L308.2 277.6 L308.6 275.6 L309.0 273.9 L309.5 271.3 L309.9 268.7 L310.0 268.1 L310.3 268.4 L310.8 266.7 L311.2 267.6 L311.6 268.7 L312.0 268.5 L312.0 268.3 L312.5 266.2 L312.9 264.7 L313.3 263.8 L313.8 262.4 L314.0 262.5 L314.2 262.5 L314.6 261.5 L315.1 262.3 L315.5 259.8 L315.9 257.3 L316.0 257.1 L316.4 254.1 L316.8 251.0 L317.2 249.4 L317.7 246.1 L318.0 244.3 L318.1 245.0 L318.5 246.6 L318.9 248.7 L319.4 249.6 L319.8 252.8 L320.0 254.0 L320.2 255.0 L320.7 257.4 L321.1 258.7 L321.5 258.8 L322.0 259.8 L322.0 260.0 L322.4 258.6 L322.8 258.5 L323.3 257.8 L323.7 255.7 L324.0 254.1 L324.1 254.0 L324.5 253.1 L325.0 252.0 L325.4 252.3 L325.8 251.2 L326.0 251.2 L326.3 249.6 L326.7 245.5 L327.1 241.6 L327.6 238.3 L328.0 235.6 L328.0 235.5 L328.4 231.9 L328.9 229.1 L329.3 226.3 L329.7 223.6 L330.0 222.3 L330.1 223.9 L330.6 226.3 L331.0 230.1 L331.4 232.6 L331.9 235.7 L332.0 236.9 L332.3 238.3 L332.7 239.8 L333.2 241.6 L333.6 244.1 L334.0 245.5 L334.0 245.4 L334.5 242.6 L334.9 240.8 L335.3 237.7 L335.7 235.8 L336.0 234.4 L336.2 235.4 L336.6 238.0 L337.0 240.2 L337.5 242.7 L337.9 244.9 L338.0 245.4 L338.3 245.7 L338.8 245.9 L339.2 247.2 L339.6 246.9 L340.1 247.9 L340.5 249.5 L340.9 250.6 L341.0 251.0 L341.3 248.8 L341.8 243.2 L342.2 237.5 L342.6 234.5 L343.1 230.8 L343.5 226.4 L343.9 221.9 L344.0 221.2 L344.4 218.0 L344.8 207.8 L345.2 207.1 L345.7 206.7 L346.0 201.5 L346.1 200.6 L346.5 198.7 L346.9 195.4 L347.4 193.4 L347.8 196.3 L348.0 194.7 L348.2 193.1 L348.7 186.2 L349.1 188.5 L349.5 186.7 L350.0 183.3 L350.0 183.4 L350.4 181.1 L350.8 183.7 L351.3 179.0 L351.7 165.4 L352.0 161.4 L352.1 159.8 L352.6 163.1 L353.0 159.5 L353.4 154.6 L353.8 149.6 L354.0 147.8 L354.3 150.1 L354.7 144.2 L355.1 147.8 L355.6 151.5 L356.0 155.2 L356.0 155.2 L356.4 159.0 L356.9 162.9 L357.3 167.1 L357.7 177.0 L358.0 181.6 L358.2 183.4 L358.6 185.1 L359.0 186.9 L359.4 188.6 L359.9 190.3 L360.0 190.8 L360.3 189.3 L360.7 187.1 L361.2 175.4 L361.6 173.2 L362.0 171.2 L362.0 171.0 L362.5 167.2 L362.9 163.5 L363.3 159.7 L363.8 156.0 L364.2 152.3 L364.6 152.3 L365.0 148.6 L365.0 148.9 L365.5 158.6 L365.9 157.9 L366.3 165.2 L366.8 168.5 L367.0 170.2 L367.2 170.9 L367.6 173.7 L368.1 175.8 L368.5 177.8 L368.9 179.8 L369.4 181.8 L369.8 183.4 L370.0 180.4 L370.2 177.8 L370.6 182.3 L371.1 182.6 L371.5 184.2 L371.9 186.8 L372.0 187.3 L372.4 183.4 L372.8 176.8 L373.2 171.2 L373.7 165.6 L374.0 161.2 L374.1 160.7 L374.5 168.1 L375.0 161.4 L375.4 161.1 L375.8 161.7 L376.0 158.5 L376.2 160.3 L376.7 164.8 L377.1 173.4 L377.5 188.3 L378.0 196.5 L378.0 197.2 L378.4 203.8 L378.8 210.0 L379.3 212.5 L379.7 216.1 L380.0 217.6 L380.1 215.1 L380.6 215.0 L381.0 209.0 L381.4 203.0 L381.8 196.9 L382.0 194.8 L382.3 188.7 L382.7 176.2 L383.1 160.1 L383.6 150.6 L384.0 141.2 L384.0 141.2 L384.4 145.5 L384.9 149.8 L385.3 154.1 L385.7 158.5 L386.0 161.2 L386.2 162.0 L386.6 165.2 L387.0 175.9 L387.4 178.0 L387.9 180.2 L388.0 180.8 L388.3 183.3 L388.7 180.8 L389.2 180.6 L389.6 184.0 L390.0 187.2 L390.0 186.8 L390.5 182.1 L390.9 177.3 L391.3 172.6 L391.8 167.9 L392.0 165.2 L392.2 167.5 L392.6 174.3 L393.1 184.9 L393.5 192.6 L393.9 197.7 L394.0 198.8 L394.3 194.0 L394.8 188.0 L395.2 179.5 L395.6 175.9 L396.1 169.9 L396.5 163.8 L396.9 157.8 L397.0 156.8 L397.4 162.3 L397.8 168.9 L398.2 175.5 L398.7 182.1 L399.1 188.7 L399.5 193.7 L399.9 192.3 L400.0 193.2 L400.4 188.0 L400.8 181.9 L401.2 175.9 L401.7 169.9 L402.0 165.2 L402.1 163.5 L402.5 156.2 L403.0 148.9 L403.4 149.1 L403.8 143.8 L404.0 140.8 L404.3 141.3 L404.7 142.2 L405.1 142.7 L405.5 143.9 L406.0 139.9 L406.0 140.0 L406.4 144.4 L406.8 148.7 L407.0 148.4 L407.3 149.5 L407.7 156.4 L408.0 161.2 L408.1 161.6 L408.6 162.9 L409.0 164.2 L409.4 174.3 L409.9 174.4 L410.0 175.5 L410.3 173.4 L410.7 163.9 L411.0 163.3 L411.1 166.8 L411.6 172.9 L412.0 178.9 L412.4 184.9 L412.9 191.0 L413.0 192.8 L413.3 190.1 L413.7 186.2 L414.2 182.3 L414.6 178.5 L415.0 170.9 L415.0 170.3 L415.5 157.0 L415.9 149.3 L416.3 141.5 L416.7 133.7 L417.0 129.2 L417.2 130.3 L417.6 132.9 L418.0 135.4 L418.5 138.0 L418.9 140.6 L419.0 141.2 L419.3 152.5 L419.8 167.2 L420.0 175.2 L420.2 176.6 L420.6 185.7 L421.1 183.9 L421.5 185.6 L421.9 189.0 L422.0 189.5 L422.3 185.4 L422.8 180.6 L423.2 179.5 L423.6 180.7 L424.0 176.8 L424.1 178.0 L424.5 184.8 L424.9 191.7 L425.4 198.6 L425.8 205.5 L426.0 208.8 L426.2 205.9 L426.7 200.3 L427.1 194.7 L427.5 189.1 L427.9 183.5 L428.0 182.1 L428.4 171.8 L428.8 163.3 L429.2 155.8 L429.7 149.8 L430.0 145.2 L430.1 143.5 L430.5 136.6 L431.0 129.8 L431.0 129.2 L431.4 135.5 L431.8 142.4 L432.3 149.5 L432.7 156.8 L433.0 165.2 L433.1 167.1 L433.6 173.6 L434.0 175.7 L434.4 177.9 L434.8 180.0 L435.0 180.8 L435.3 183.5 L435.7 187.9 L436.1 192.2 L436.6 193.5 L437.0 200.8 L437.0 200.8 L437.4 198.2 L437.9 195.6 L438.3 191.7 L438.7 190.5 L439.0 188.8 L439.2 186.6 L439.6 177.9 L440.0 165.1 L440.4 158.0 L440.9 151.7 L441.3 145.4 L441.7 139.1 L442.0 135.2 L442.2 137.7 L442.6 144.2 L443.0 150.6 L443.5 157.1 L443.9 163.6 L444.0 165.4 L444.3 163.2 L444.8 168.0 L445.2 159.8 L445.6 155.5 L446.0 156.3 L446.0 156.4 L446.5 152.5 L446.9 148.6 L447.3 144.8 L447.8 140.9 L448.0 138.8 L448.2 140.0 L448.6 142.6 L449.1 145.2 L449.5 145.9 L449.9 148.9 L450.0 147.9 L450.4 143.7 L450.8 146.7 L451.2 149.7 L451.6 152.7 L452.0 155.2 L452.1 154.3 L452.5 151.1 L452.9 143.9 L453.4 138.8 L453.8 133.6 L454.0 133.7 L454.2 138.3 L454.7 139.5 L455.1 148.5 L455.5 151.5 L456.0 154.5 L456.0 154.8 L456.4 161.4 L456.8 169.5 L457.0 172.8 L457.2 170.3 L457.7 166.0 L458.1 161.7 L458.5 157.4 L459.0 153.1 L459.0 152.8 L459.4 152.8 L459.8 152.8 L460.3 152.1 L460.7 143.2 L461.0 143.2 L461.1 144.3 L461.6 148.2 L462.0 152.1 L462.4 156.0 L462.8 159.8 L463.0 161.2 L463.3 164.0 L463.7 168.3 L464.1 172.6 L464.6 179.5 L465.0 188.4 L465.0 188.4 L465.4 189.5 L465.9 188.2 L466.3 186.9 L466.7 183.8 L467.0 183.7 L467.2 182.6 L467.6 176.7 L468.0 166.4 L468.4 160.7 L468.9 156.4 L469.0 155.2 L469.3 152.1 L469.7 147.8 L470.0 145.2 L470.2 146.8 L470.6 150.6 L471.0 154.5 L471.5 162.2 L471.9 171.9 L472.0 172.8 L472.3 174.4 L472.8 176.6 L473.2 178.7 L473.6 180.9 L474.0 182.8 L474.1 183.1 L474.5 185.2 L474.9 183.5 L475.3 187.6 L475.8 182.1 L476.0 183.2 L476.2 182.8 L476.6 181.9 L477.1 181.1 L477.5 180.2 L477.9 179.3 L478.0 179.5 L478.4 189.0 L478.8 206.2 L479.0 210.8 L479.2 207.7 L479.7 201.7 L480.1 195.6 L480.5 189.6 L480.9 183.6 L481.0 182.8 L481.4 184.3 L481.8 176.4 L482.2 178.1 L482.7 179.9 L483.0 181.2 L483.1 182.5 L483.5 188.1 L484.0 193.7 L484.4 199.3 L484.8 204.9 L485.0 207.2 L485.3 204.7 L485.7 207.1 L486.1 205.6 L486.5 201.3 L487.0 194.2 L487.0 194.1 L487.4 198.4 L487.8 200.2 L488.3 201.9 L488.7 203.6 L489.0 204.8 L489.1 204.0 L489.6 201.4 L490.0 192.0 L490.4 186.7 L490.9 184.1 L491.0 183.2 L491.3 179.2 L491.7 173.2 L492.1 167.1 L492.6 161.1 L493.0 155.2 L493.0 155.3 L493.4 159.2 L493.9 163.0 L494.3 166.9 L494.7 170.8 L495.0 178.4 L495.2 182.8 L495.6 187.0 L496.0 190.0 L496.5 193.0 L496.9 190.4 L497.0 191.7 L497.3 189.8 L497.7 188.6 L498.2 183.8 L498.6 179.1 L499.0 174.8 L499.0 175.1 L499.5 177.9 L499.9 178.8 L500.3 183.0 L500.8 180.5 L501.0 187.0 L501.2 189.6 L501.6 179.9 L502.1 174.9 L502.5 172.3 L502.9 169.7 L503.0 169.2 L503.3 172.7 L503.8 178.1 L504.2 182.5 L504.6 187.6 L505.0 194.6 L505.1 195.5 L505.5 194.8 L505.9 201.0 L506.4 202.9 L506.8 203.3 L507.0 203.7 L507.2 204.0 L507.7 206.5 L508.1 207.0 L508.5 204.8 L509.0 201.7 L509.0 201.7 L509.4 203.5 L509.8 206.1 L510.2 208.7 L510.7 211.2 L511.0 213.2 L511.1 212.9 L511.5 212.4 L512.0 215.1 L512.4 218.6 L512.8 217.3 L513.0 216.8 L513.3 216.5 L513.7 216.1 L514.1 215.7 L514.6 215.2 L515.0 214.8 L515.0 214.6 L515.4 212.8 L515.8 212.5 L516.3 214.5 L516.7 215.4 L517.0 218.3 L517.1 219.1 L517.6 219.1 L518.0 223.1 L518.4 221.0 L518.9 222.0 L519.3 223.2 L519.7 226.6 L520.0 225.8 L520.2 225.2 L520.6 225.7 L521.0 223.2 L521.0 223.0 L521.4 217.1 L521.9 217.3 L522.3 209.4 L522.7 206.8 L523.0 205.2 L523.2 203.5 L523.6 199.2 L524.0 194.9 L524.5 190.6 L524.9 186.3 L525.0 185.6 L525.3 179.9 L525.8 175.0 L526.2 164.4 L526.6 160.9 L527.0 152.8 L527.0 152.9 L527.5 153.8 L527.9 154.6 L528.3 155.5 L528.8 156.3 L529.0 156.8 L529.2 154.4 L529.6 149.2 L530.0 144.8 L530.1 145.4 L530.5 148.5 L530.9 150.4 L531.4 148.7 L531.8 153.1 L532.0 155.2 L532.2 155.2 L532.6 155.2 L533.1 163.9 L533.5 155.4 L533.9 155.2 L534.4 155.2 L534.8 155.2 L535.0 155.2 L535.2 153.6 L535.7 156.3 L536.1 151.9 L536.5 144.5 L537.0 141.5 L537.0 141.2 L537.4 140.4 L537.8 140.4 L538.2 147.5 L538.7 147.4 L539.0 146.8 L539.1 146.6 L539.5 145.7 L540.0 144.9 L540.4 144.0 L540.8 143.1 L541.0 142.8 L541.3 144.4 L541.7 147.0 L542.1 149.3 L542.6 144.5 L543.0 145.1 L543.0 145.2 L543.4 141.9 L543.8 138.4 L544.3 135.0 L544.7 131.5 L545.0 129.2 L545.1 130.3 L545.6 133.8 L546.0 137.2 L546.4 144.4 L546.9 153.7 L547.0 154.8 L547.3 158.4 L547.7 160.9 L548.2 166.6 L548.6 171.0 L549.0 174.6 L549.0 174.6 L549.5 173.1 L549.9 179.7 L550.3 180.1 L550.7 178.4 L551.0 174.2 L551.2 170.5 L551.6 170.7 L552.0 172.4 L552.5 167.4 L552.9 163.6 L553.0 163.2 L553.3 164.0 L553.8 167.7 L554.2 169.5 L554.6 166.5 L555.0 174.1 L555.1 174.9 L555.5 175.4 L555.9 172.7 L556.3 165.3 L556.8 163.4 L557.0 166.9 L557.2 169.2 L557.6 165.7 L558.1 157.7 L558.5 149.2 L558.9 145.8 L559.0 145.2 L559.4 145.2 L559.8 145.2 L560.0 149.9 L560.2 155.9 L560.7 158.1 L561.1 160.2 L561.5 162.4 L561.9 164.5 L562.0 164.8 L562.4 166.7 L562.8 168.8 L563.2 171.0 L563.7 173.1 L564.0 173.0 L564.1 171.7 L564.5 161.0 L565.0 157.5 L565.0 157.2 L565.4 154.5 L565.8 151.4 L566.3 148.4 L566.7 145.4 L567.0 143.2 L567.1 144.2 L567.5 148.1 L568.0 157.8 L568.4 164.7 L568.8 168.3 L569.0 170.1 L569.3 172.1 L569.7 174.3 L570.1 176.5 L570.6 177.2 L571.0 180.8 L571.0 180.7 L571.4 177.3 L571.9 174.6 L572.0 175.2 L572.3 179.8 L572.7 186.7 L573.0 191.2 L573.1 190.9 L573.6 190.0 L574.0 189.2 L574.4 188.3 L574.9 196.6 L575.0 196.5 L575.3 193.8 L575.7 189.5 L576.2 185.2 L576.6 180.9 L577.0 176.8 L577.0 177.0 L577.5 179.5 L577.9 182.1 L578.0 181.6 L578.3 194.3 L578.7 211.2 L579.0 223.4 L579.2 223.7 L579.6 225.0 L580.0 226.3 L580.5 227.6 L580.9 228.9 L581.0 229.2 L581.3 229.0 L581.8 231.4 L582.2 234.9 L582.6 238.0 L583.0 237.8 L583.1 235.1 L583.5 214.9 L583.9 194.6 L584.0 190.0 L584.3 187.0 L584.8 191.6 L585.2 191.7 L585.6 191.6 L586.0 184.9 L586.1 183.3 L586.5 182.6 L586.9 181.9 L587.4 181.1 L587.8 180.6 L588.0 183.9 L588.2 187.7 L588.7 186.1 L589.1 180.8 L589.5 178.9 L590.0 178.6 L590.0 179.1 L590.4 152.9 L590.4 151.5 L590.8 158.4 L591.2 163.7 L591.7 167.5 L592.0 169.7 L592.1 171.2 L592.5 179.4 L593.0 188.9 L593.4 197.9 L593.8 208.0 L594.0 211.8 L594.3 220.1 L594.7 232.3 L595.0 240.9 L595.1 240.5 L595.6 241.5 L596.0 241.1 L596.4 240.5 L596.8 239.4 L597.0 238.9 L597.3 237.6 L597.7 235.4 L598.1 233.3 L598.6 232.2 L599.0 230.5 L599.0 230.5 L599.4 227.7 L599.9 224.7 L600.3 223.1 L600.7 222.5 L601.0 221.0 L601.2 221.8 L601.6 224.3 L602.0 226.0 L602.4 227.5 L602.9 229.0 L603.0 229.8 L603.3 231.7 L603.7 233.5 L604.2 235.5 L604.6 237.3 L605.0 239.1 L605.0 239.1 L605.5 239.5 L605.9 240.5 L606.3 241.1 L606.8 241.6 L607.0 242.2 L607.2 240.6 L607.6 235.4 L608.0 231.4 L608.5 227.6 L608.9 223.1 L609.0 222.0 L609.3 219.2 L609.8 216.7 L610.2 214.2 L610.6 212.4 L611.0 209.9 L611.1 209.7 L611.5 207.0 L611.9 205.8 L612.4 204.2 L612.8 202.5 L613.0 202.1 L613.2 203.8 L613.6 207.8 L614.1 210.5 L614.5 213.9 L614.9 217.5 L615.0 218.1 L615.4 220.2 L615.8 221.7 L616.2 222.6 L616.7 223.4 L617.0 224.1 L617.1 223.6 L617.5 221.5 L618.0 219.2 L618.4 216.9 L618.8 213.9 L619.0 212.3 L619.2 211.7 L619.7 210.7 L620.1 211.0 L620.5 211.4 L621.0 212.3 L621.0 212.3 L621.4 212.6 L621.8 213.9 L622.3 214.0 L622.7 215.1 L623.0 215.6 L623.1 215.2 L623.6 214.7 L624.0 214.1 L624.4 212.4 L624.9 210.2 L625.0 209.2 L625.3 209.2 L625.7 209.7 L626.1 210.3 L626.6 212.5 L627.0 213.7 L627.0 213.7 L627.4 214.8 L627.9 216.2 L628.3 217.7 L628.7 219.1 L629.0 220.4 L629.2 220.6 L629.6 221.3 L630.0 222.3 L630.5 223.6 L630.9 224.0 L631.0 224.2 L631.3 225.0 L631.7 227.1 L632.2 228.3 L632.6 229.0 L633.0 229.1 L633.0 229.0 L633.5 228.6 L633.9 228.4 L634.3 227.5 L634.8 227.1 L635.0 226.5 L635.2 225.9 L635.6 224.2 L636.1 223.5 L636.5 222.8 L636.9 222.0 L637.0 222.1 L637.3 223.3 L637.8 224.5 L638.2 225.1 L638.6 225.0 L639.0 224.5 L639.1 224.5 L639.5 225.3 L639.9 226.2 L640.4 226.5 L640.8 227.5 L641.0 227.8 L641.2 227.2 L641.7 225.4 L642.1 224.7 L642.5 223.6 L642.9 223.0 L643.0 223.0 L643.4 224.2 L643.8 225.7 L644.2 226.8 L644.7 228.0 L645.0 228.0 L645.1 228.0 L645.5 228.2 L646.0 229.2 L646.4 229.3 L646.8 229.5 L647.3 230.5 L647.7 230.9 L648.0 231.5 L648.1 231.8 L648.5 232.6 L649.0 233.3 L649.4 234.2 L649.8 235.1 L650.3 235.9 L650.7 236.5 L651.1 237.8 L651.6 238.5 L652.0 238.9 L652.0 238.9 L652.4 238.7 L652.9 239.8 L653.3 240.4 L653.7 241.7 L654.1 243.0 L654.6 244.1 L655.0 245.1 L655.0 245.1 L655.4 245.3 L655.9 244.9 L656.3 245.1 L656.7 245.2 L657.2 246.0 L657.6 245.8 L658.0 246.1 L658.0 246.1 L658.5 245.9 L658.9 246.0 L659.3 245.9 L659.7 245.6 L660.0 245.9 L660.2 246.4 L660.6 247.8 L661.0 249.2 L661.5 249.1 L661.9 250.0 L662.0 250.2 L662.3 251.4 L662.8 251.7 L663.2 252.3 L663.6 252.6 L664.0 253.7 L664.1 253.7 L664.5 254.5 L664.9 254.7 L665.4 255.3 L665.8 255.2 L666.2 255.9 L666.6 255.3 L667.0 256.2 L667.1 256.2 L667.5 255.5 L667.9 254.3 L668.4 252.8 L668.8 251.3 L669.2 251.0 L669.7 249.9 L670.0 249.8 L670.1 250.0 L670.5 249.0 L671.0 249.9 L671.4 250.4 L671.8 250.7 L672.0 251.0 L672.2 252.2 L672.7 253.5 L673.1 255.3 L673.5 256.7 L674.0 258.4 L674.0 258.6 L674.4 260.7 L674.8 263.8 L675.3 264.7 L675.7 266.5 L676.0 267.4 L676.1 267.1 L676.6 266.6 L677.0 267.2 L677.4 267.1 L677.8 266.6 L678.0 266.4 L678.3 265.8 L678.7 264.0 L679.1 262.2 L679.6 261.7 L680.0 259.9 L680.0 259.9 L680.4 260.5 L680.9 260.7 L681.3 260.8 L681.7 260.2 L682.0 260.1 L682.2 260.2 L682.6 261.1 L683.0 261.9 L683.4 262.8 L683.9 264.5 L684.3 265.3 L684.7 266.3 L685.0 267.5 L685.2 268.1 L685.6 269.1 L686.0 270.1 L686.5 272.0 L686.9 272.6 L687.3 273.0 L687.8 272.6 L688.0 272.4 L688.2 272.0 L688.6 272.3 L689.0 271.9 L689.5 270.6 L689.9 270.5 L690.0 270.6 L690.3 271.5 L690.8 271.2 L691.2 272.2 L691.6 273.8 L692.0 274.4 L692.1 274.3 L692.5 273.5 L692.9 273.0 L693.4 272.8 L693.8 272.0 L694.0 271.5 L694.2 270.9 L694.6 270.3 L695.1 270.7 L695.5 269.2 L695.9 269.0 L696.0 269.0 L696.4 269.5 L696.8 270.5 L697.2 271.3 L697.7 272.5 L698.0 273.5 L698.1 273.8 L698.5 273.6 L699.0 273.6 L699.4 272.5 L699.8 272.5 L700.0 272.5 L700.2 273.3 L700.7 275.7 L701.1 277.5 L701.5 278.1 L702.0 279.7 L702.0 279.8 L702.4 281.2 L702.8 283.5 L703.3 284.5 L703.7 285.4 L704.0 286.1 L704.1 286.2 L704.6 285.8 L705.0 285.0 L705.4 284.5 L705.9 284.8 L706.3 284.4 L706.7 284.6 L707.0 284.9 L707.1 285.3 L707.6 286.5 L708.0 288.4 L708.4 290.5 L708.9 292.3 L709.3 294.0 L709.7 295.8 L710.0 296.6 L710.2 296.6 L710.6 296.3 L711.0 295.6 L711.5 294.6 L711.9 294.2 L712.0 294.1 L712.3 293.4 L712.7 292.5 L713.2 291.9 L713.6 291.1 L714.0 290.0 L714.0 289.9 L714.5 291.1 L714.9 292.3 L715.3 293.7 L715.8 294.0 L716.0 294.1 L716.2 293.9 L716.6 293.8 L717.1 293.9 L717.5 294.2 L717.9 294.6 L718.0 294.7 L718.3 294.8 L718.8 294.1 L719.2 292.9 L719.6 291.7 L720.1 291.3 L720.5 290.2" stroke="#f00" stroke-width="1.39" fill="none" stroke-linejoin="round"/>
<circle cx="106.5" cy="141.5" r="2.7" fill="#00bfbf"/>
<circle cx="105.3" cy="149.3" r="2.7" fill="#00bfbf"/>
<circle cx="105.3" cy="154.7" r="2.7" fill="#00bfbf"/>
<circle cx="104.5" cy="173.0" r="2.7" fill="#00bfbf"/>
<circle cx="103.5" cy="184.0" r="2.7" fill="#00bfbf"/>
<circle cx="103.0" cy="196.5" r="2.7" fill="#00bfbf"/>
<circle cx="102.5" cy="200.5" r="2.7" fill="#00bfbf"/>
<circle cx="102.5" cy="206.0" r="2.7" fill="#00bfbf"/>
<circle cx="101.5" cy="216.0" r="2.7" fill="#00bfbf"/>
<circle cx="101.5" cy="223.0" r="2.7" fill="#00bfbf"/>
<circle cx="101.5" cy="241.0" r="2.7" fill="#00bfbf"/>
</g>
<path d="M178.5 480.5V132.5M255.5 480.5V132.5M332.5 480.5V132.5M410.5 480.5V132.5M488.5 480.5V132.5M565.5 480.5V132.5M642.5 480.5V132.5M100.5 430.5H720.5M100.5 381.5H720.5M100.5 331.5H720.5M100.5 281.5H720.5M100.5 231.5H720.5M100.5 182.5H720.5" stroke="#000" stroke-width="0.75" stroke-dasharray="1.39,4.17" fill="none"/>
<path d="M100.5 480V474.5M100.5 133V138.5M116.5 480V477.2M116.5 133V135.8M131.5 480V477.2M131.5 133V135.8M146.5 480V477.2M146.5 133V135.8M162.5 480V477.2M162.5 133V135.8M178.5 480V474.5M178.5 133V138.5M193.5 480V477.2M193.5 133V135.8M208.5 480V477.2M208.5 133V135.8M224.5 480V477.2M224.5 133V135.8M239.5 480V477.2M239.5 133V135.8M255.5 480V474.5M255.5 133V138.5M270.5 480V477.2M270.5 133V135.8M286.5 480V477.2M286.5 133V135.8M302.5 480V477.2M302.5 133V135.8M317.5 480V477.2M317.5 133V135.8M332.5 480V474.5M332.5 133V138.5M348.5 480V477.2M348.5 133V135.8M364.5 480V477.2M364.5 133V135.8M379.5 480V477.2M379.5 133V135.8M394.5 480V477.2M394.5 133V135.8M410.5 480V474.5M410.5 133V138.5M426.5 480V477.2M426.5 133V135.8M441.5 480V477.2M441.5 133V135.8M456.5 480V477.2M456.5 133V135.8M472.5 480V477.2M472.5 133V135.8M488.5 480V474.5M488.5 133V138.5M503.5 480V477.2M503.5 133V135.8M518.5 480V477.2M518.5 133V135.8M534.5 480V477.2M534.5 133V135.8M550.5 480V477.2M550.5 133V135.8M565.5 480V474.5M565.5 133V138.5M580.5 480V477.2M580.5 133V135.8M596.5 480V477.2M596.5 133V135.8M612.5 480V477.2M612.5 133V135.8M627.5 480V477.2M627.5 133V135.8M642.5 480V474.5M642.5 133V138.5M658.5 480V477.2M658.5 133V135.8M674.5 480V477.2M674.5 133V135.8M689.5 480V477.2M689.5 133V135.8M704.5 480V477.2M704.5 133V135.8M720.5 480V474.5M720.5 133V138.5M101 480.5H106.5M720 480.5H714.5M101 470.5H103.8M720 470.5H717.2M101 460.5H103.8M720 460.5H717.2M101 450.5H103.8M720 450.5H717.2M101 440.5H103.8M720 440.5H717.2M101 430.5H106.5M720 430.5H714.5M101 420.5H103.8M720 420.5H717.2M101 410.5H103.8M720 410.5H717.2M101 400.5H103.8M720 400.5H717.2M101 391.5H103.8M720 391.5H717.2M101 381.5H106.5M720 381.5H714.5M101 371.5H103.8M720 371.5H717.2M101 361.5H103.8M720 361.5H717.2M101 351.5H103.8M720 351.5H717.2M101 341.5H103.8M720 341.5H717.2M101 331.5H106.5M720 331.5H714.5M101 321.5H103.8M720 321.5H717.2M101 311.5H103.8M720 311.5H717.2M101 301.5H103.8M720 301.5H717.2M101 291.5H103.8M720 291.5H717.2M101 281.5H106.5M720 281.5H714.5M101 271.5H103.8M720 271.5H717.2M101 261.5H103.8M720 261.5H717.2M101 251.5H103.8M720 251.5H717.2M101 241.5H103.8M720 241.5H717.2M101 231.5H106.5M720 231.5H714.5M101 221.5H103.8M720 221.5H717.2M101 212.5H103.8M720 212.5H717.2M101 202.5H103.8M720 202.5H717.2M101 192.5H103.8M720 192.5H717.2M101 182.5H106.5M720 182.5H714.5M101 172.5H103.8M720 172.5H717.2M101 162.5H103.8M720 162.5H717.2M101 152.5H103.8M720 152.5H717.2M101 142.5H103.8M720 142.5H717.2M101 132.5H106.5M720 132.5H714.5" stroke="#000" stroke-width="1" fill="none"/>
<rect x="100.5" y="132.5" width="620" height="348" fill="none" stroke="#000" stroke-width="1.25"/>
<text x="93.6" y="484.4" font-size="17.20" text-anchor="end" >0</text>
<text x="93.6" y="434.7" font-size="17.20" text-anchor="end" >5</text>
<text x="93.6" y="385.0" font-size="17.20" text-anchor="end" >10</text>
<text x="93.6" y="335.3" font-size="17.20" text-anchor="end" >15</text>
<text x="93.6" y="285.5" font-size="17.20" text-anchor="end" >20</text>
<text x="93.6" y="235.8" font-size="17.20" text-anchor="end" >25</text>
<text x="93.6" y="186.1" font-size="17.20" text-anchor="end" >30</text>
<text x="93.6" y="136.4" font-size="17.20" text-anchor="end" >35</text>
<g transform="translate(91.3,490.0) rotate(-30)"><text x="0.0" y="12.5" font-size="17.20" text-anchor="end" textLength="48.1" lengthAdjust="spacingAndGlyphs" >00:00</text></g>
<g transform="translate(168.8,490.0) rotate(-30)"><text x="0.0" y="12.5" font-size="17.20" text-anchor="end" textLength="48.1" lengthAdjust="spacingAndGlyphs" >03:00</text></g>
<g transform="translate(246.3,490.0) rotate(-30)"><text x="0.0" y="12.5" font-size="17.20" text-anchor="end" textLength="48.1" lengthAdjust="spacingAndGlyphs" >06:00</text></g>
<g transform="translate(323.8,490.0) rotate(-30)"><text x="0.0" y="12.5" font-size="17.20" text-anchor="end" textLength="48.1" lengthAdjust="spacingAndGlyphs" >09:00</text></g>
<g transform="translate(401.3,490.0) rotate(-30)"><text x="0.0" y="12.5" font-size="17.20" text-anchor="end" textLength="48.1" lengthAdjust="spacingAndGlyphs" >12:00</text></g>
<g transform="translate(478.8,490.0) rotate(-30)"><text x="0.0" y="12.5" font-size="17.20" text-anchor="end" textLength="48.1" lengthAdjust="spacingAndGlyphs" >15:00</text></g>
<g transform="translate(556.3,490.0) rotate(-30)"><text x="0.0" y="12.5" font-size="17.20" text-anchor="end" textLength="48.1" lengthAdjust="spacingAndGlyphs" >18:00</text></g>
<g transform="translate(633.8,490.0) rotate(-30)"><text x="0.0" y="12.5" font-size="17.20" text-anchor="end" textLength="48.1" lengthAdjust="spacingAndGlyphs" >21:00</text></g>
<g transform="translate(711.3,490.0) rotate(-30)"><text x="0.0" y="12.5" font-size="17.20" text-anchor="end" textLength="48.1" lengthAdjust="spacingAndGlyphs" >24:00</text></g>
<text x="304.2" y="37.9" font-size="20.20" text-anchor="start" textLength="212.0" lengthAdjust="spacingAndGlyphs" >pwd52_20200428.txt</text>
<text x="302.8" y="543.8" font-size="17.20" text-anchor="start" textLength="213.9" lengthAdjust="spacingAndGlyphs" >Time on 2020-04-28 (JST)</text>
<g transform="translate(34.3,364.7) rotate(-90)"><text x="0.0" y="0.0" font-size="17.20" text-anchor="start" textLength="113.7" lengthAdjust="spacingAndGlyphs" >Visibility (km)</text></g>
<rect x="271.5" y="88.5" width="278" height="29" fill="#fff" stroke="#000" stroke-width="1.1"/>
<path d="M278 101.5H296" stroke="#a9a9a9" stroke-width="1.2"/>
<path d="M388 101.5H406" stroke="#f00" stroke-width="1.4"/>
<circle cx="517.4" cy="101.4" r="2.7" fill="#00bfbf"/>
<text x="296.0" y="106.9" font-size="17.20" text-anchor="start" textLength="82.6" lengthAdjust="spacingAndGlyphs" >1 min avg</text>
<text x="406.0" y="106.9" font-size="17.20" text-anchor="start" textLength="93.3" lengthAdjust="spacingAndGlyphs" >10 min avg</text>
<text x="526.8" y="106.8" font-size="17.20" text-anchor="start" textLength="13.8" lengthAdjust="spacingAndGlyphs" >L-</text>
</svg>
</body></html>
